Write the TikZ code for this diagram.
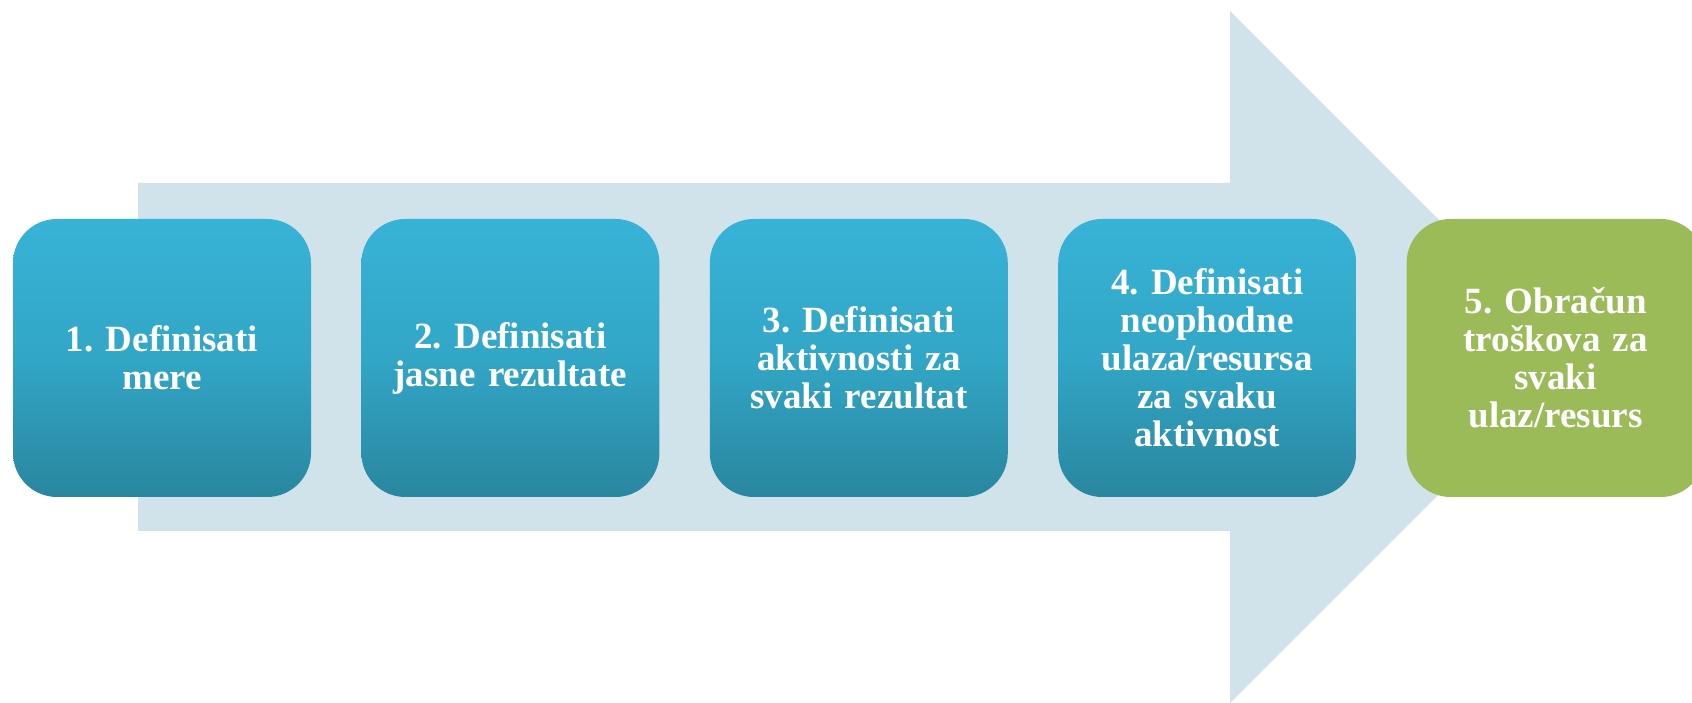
\documentclass[tikz,border=0pt]{standalone}
\usepackage{fontspec}
\setmainfont{Liberation Serif}
\usepackage{xcolor}
\usepackage{tikz}
\usetikzlibrary{positioning}
\definecolor{band}{HTML}{D0E3EB}
\definecolor{bluetop}{HTML}{37B3D7}
\definecolor{bluemid}{HTML}{32A6C6}
\definecolor{bluebot}{HTML}{29869F}
\definecolor{leaf}{HTML}{9BBB59}
\frenchspacing
\tikzset{
  stepbox/.style={rounded corners=44pt, minimum width=298pt, minimum height=278pt,
    text width=270pt, align=center, inner sep=0pt, text=white,
    font=\bfseries\fontsize{37}{38}\selectfont},
  blue/.style={stepbox, top color=bluetop, bottom color=bluebot, middle color=bluemid},
  last/.style={stepbox, fill=leaf},
}
\begin{document}
\begin{tikzpicture}[x=1pt, y=1pt, node distance=50pt]
\clip (0,0) rectangle (1692,703);
\fill[white] (0,0) rectangle (1692,703);
% big arrow behind the steps
\fill[band] (138,172) -- (138,520) -- (1230,520) -- (1230,692)
  -- (1576,346) -- (1230,0) -- (1230,172) -- cycle;
\node[blue] (b1) at (162,345) {1. Definisati\\mere};
\node[blue, right=of b1] (b2) {2. Definisati\\jasne rezultate};
\node[blue, right=of b2] (b3) {3. Definisati\\aktivnosti za\\svaki rezultat};
\node[blue, right=of b3] (b4) {4. Definisati\\neophodne\\ulaza/resursa\\za svaku\\aktivnost};
\node[last, right=of b4] (b5) {5. Obračun\\troškova za\\svaki\\ulaz/resurs};
\end{tikzpicture}
\end{document}
